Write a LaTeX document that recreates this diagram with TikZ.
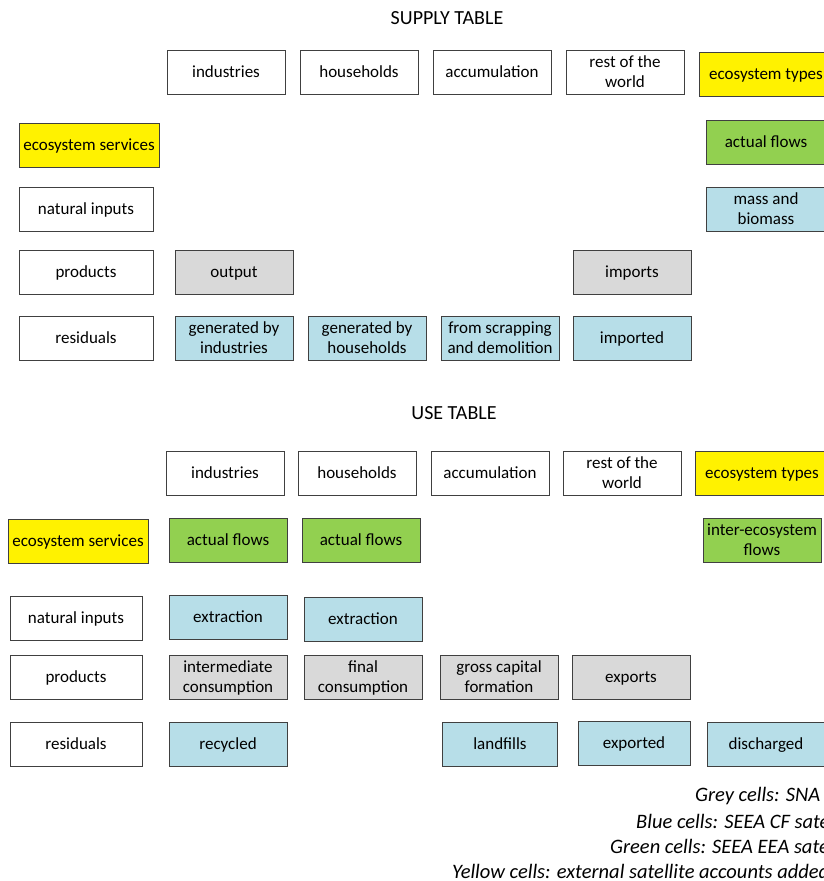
\documentclass[tikz,border=0pt]{standalone}
\usepackage{fontspec}
\setmainfont{Carlito}
\tikzset{
  cell/.style={draw=black!75, line width=0.8pt, minimum width=118pt, minimum height=44pt,
    inner sep=0pt, align=center, text height=14pt, text depth=3pt,
    font=\fontsize{17}{20}\selectfont},
  twoline/.style={text height=34pt, text depth=3pt},
  rowlab/.style={cell, minimum width=134pt},
  sna/.style={cell, fill=black!15},
  cf/.style={cell, fill={rgb,255:red,183;green,222;blue,232}},
  eea/.style={cell, fill={rgb,255:red,146;green,208;blue,80}},
  ext/.style={cell, fill=yellow},
  title/.style={font=\fontsize{20}{22}\selectfont},
  legend/.style={anchor=west, inner sep=0pt, font=\fontsize{20.5}{22}\selectfont\itshape}
}
\begin{document}
\begin{tikzpicture}[x=1pt,y=-1pt]
    \useasboundingbox (0,0) rectangle (824,881);
    \clip (0,0) rectangle (824,881);

    % supply table
    \node[title] (stitle) at (447,18) {SUPPLY TABLE};
    \node[cell] (sind) at (226,72) {industries};
    \node[cell] (shh) at (359,72) {households};
    \node[cell] (sacc) at (492,72) {accumulation};
    \node[cell, twoline] (srow) at (625,72) {rest of the\\world};
    \node[ext, minimum width=134pt] (stypes) at (766,74) {ecosystem types};

    \node[ext, minimum width=140pt] (sserv) at (89,145) {ecosystem services};
    \node[eea, minimum width=120pt] (sflows) at (766,142) {actual flows};
    \node[rowlab] (snat) at (86,209) {natural inputs};
    \node[cf, twoline, minimum width=120pt] (smass) at (766,209) {mass and\\biomass};
    \node[rowlab] (sprod) at (86,272) {products};
    \node[sna] (sout) at (234,272) {output};
    \node[sna] (simp) at (632,272) {imports};
    \node[rowlab] (sres) at (86,338) {residuals};
    \node[cf, twoline] (sgenind) at (234,338) {generated by\\industries};
    \node[cf, twoline] (sgenhh) at (367,338) {generated by\\households};
    \node[cf, twoline] (sscrap) at (500,338) {from scrapping\\and demolition};
    \node[cf] (simpd) at (632,338) {imported};

    % use table
    \node[title] (utitle) at (454,413) {USE TABLE};
    \node[cell] (uind) at (225,473) {industries};
    \node[cell] (uhh) at (357,473) {households};
    \node[cell] (uacc) at (490,473) {accumulation};
    \node[cell, twoline] (urow) at (622,473) {rest of the\\world};
    \node[ext, minimum width=134pt] (utypes) at (762,473) {ecosystem types};

    \node[ext, minimum width=140pt] (userv) at (78,541) {ecosystem services};
    \node[eea] (uflowsa) at (228,540) {actual flows};
    \node[eea] (uflowsb) at (361,540) {actual flows};
    \node[eea, twoline] (uinter) at (762,540) {inter-ecosystem\\flows};
    \node[rowlab, minimum width=132pt] (unat) at (76,618) {natural inputs};
    \node[cf] (uexta) at (228,617) {extraction};
    \node[cf] (uextb) at (363,619) {extraction};
    \node[rowlab, minimum width=132pt] (uprod) at (76,677) {products};
    \node[sna, twoline] (uinterm) at (228,677) {intermediate\\consumption};
    \node[sna, twoline] (ufinal) at (363,677) {final\\consumption};
    \node[sna, twoline] (ugross) at (499,677) {gross capital\\formation};
    \node[sna] (uexp) at (631,677) {exports};
    \node[rowlab, minimum width=132pt] (ures) at (76,744) {residuals};
    \node[cf] (urec) at (228,744) {recycled};
    \node[cf, minimum width=115pt] (uland) at (500,744) {landfills};
    \node[cf, minimum width=112pt] (uexpd) at (634,743) {exported};
    \node[cf] (udis) at (766,744) {discharged};

    % legend
    \node[legend] (lgrey) at (695,796) {Grey cells: SNA};
    \node[legend] (lblue) at (636,821) {Blue cells: SEEA CF satellite accounts};
    \node[legend] (lgreen) at (610,846) {Green cells: SEEA EEA satellite accounts};
    \node[legend] (lyellow) at (452,871) {Yellow cells: external satellite accounts added};
\end{tikzpicture}
\end{document}
